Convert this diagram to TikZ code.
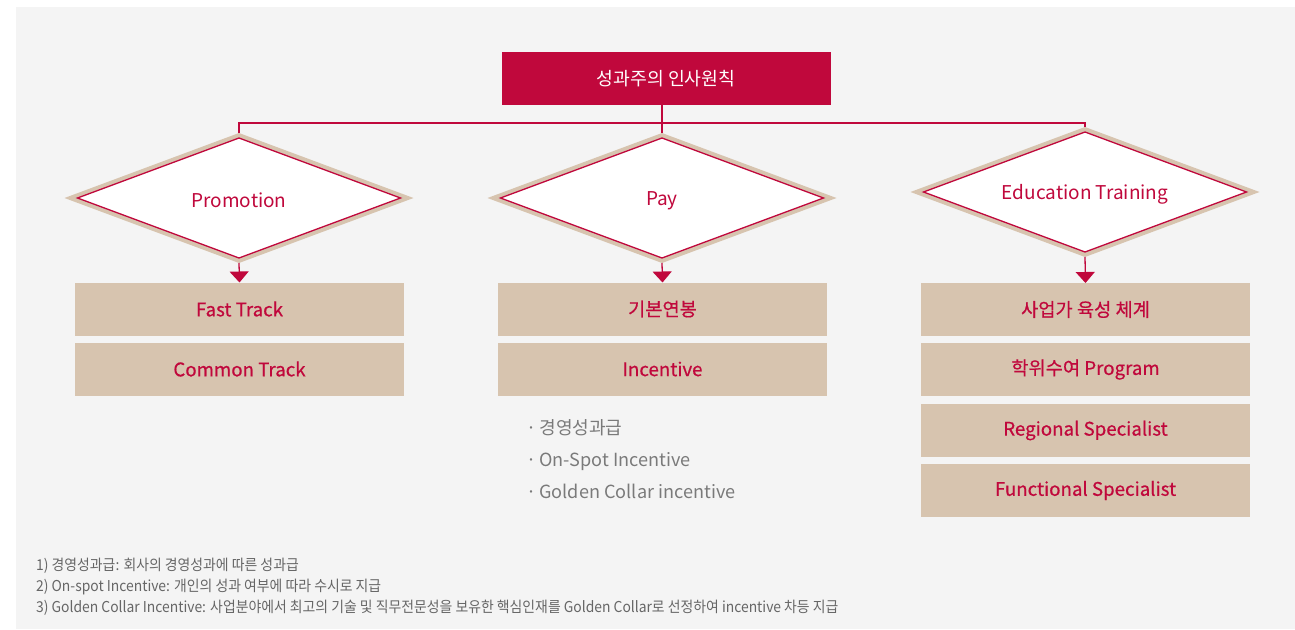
\documentclass[tikz,border=0pt]{standalone}
\usepackage{fontspec}
\setmainfont{Noto Sans CJK KR}
\newfontfamily\boxfont{Noto Sans CJK KR}[FakeBold=0.5]
\newfontfamily\fnfont{Noto Sans CJK KR}[FakeStretch=0.925]
\usetikzlibrary{shapes.geometric,arrows.meta}
\definecolor{crim}{HTML}{C0083C}
\definecolor{beige}{HTML}{D7C4AF}
\definecolor{panel}{HTML}{F4F4F4}
\definecolor{bulletgrey}{HTML}{7A7A7A}
\definecolor{fngrey}{HTML}{666666}
\begin{document}
\begin{tikzpicture}[x=1pt,y=-1pt,
  outerd/.style={diamond,fill=beige,minimum width=349pt,minimum height=130pt,inner sep=0pt,outer sep=0pt},
  innerd/.style={diamond,fill=white,draw=crim,line width=1.3pt,minimum width=323pt,minimum height=120pt,inner sep=0pt,outer sep=0pt},
  dlabel/.style={inner sep=0pt,text=crim,font=\fontsize{19}{21}\selectfont},
  itembox/.style={rectangle,fill=beige,minimum width=329pt,minimum height=53pt,inner sep=0pt,outer sep=0pt,text=crim,font=\boxfont\fontsize{18.7}{20}\selectfont},
  conn/.style={draw=crim,line width=1.3pt},
  arr/.style={conn,-{Triangle[width=19pt,length=11pt]}},
  bul/.style={anchor=base west,inner sep=0pt,text=bulletgrey,font=\fontsize{18.1}{20}\selectfont},
  fnote/.style={anchor=base west,inner sep=0pt,text=fngrey,font=\fnfont\fontsize{15}{17}\selectfont}
]
\useasboundingbox (0,0) rectangle (1295,629);
\fill[panel] (16,7) rectangle (1295,629);

% title
\node[rectangle,fill=crim,minimum width=329pt,minimum height=53pt,inner sep=0pt,outer sep=0pt,text=white,font=\fontsize{18.3}{20}\selectfont] (title) at (666,78.5) {성과주의 인사원칙};

% diamonds
\node[outerd] (promo-o) at (239,198) {};
\node[innerd] (promo) at (239,198) {};
\node[dlabel] (promo-l) at (239,200.5) {Promotion};
\node[outerd] (pay-o) at (662,198) {};
\node[innerd] (pay) at (662,198) {};
\node[dlabel] (pay-l) at (662,200.5) {Pay};
\node[outerd] (edu-o) at (1085,192) {};
\node[innerd] (edu) at (1085,192) {};
\node[dlabel] (edu-l) at (1085,194) {Education Training};

% connectors
\coordinate (hub) at (662,123);
\draw[conn] (pay-o.north |- title.south) -- (pay-o.north);
\draw[conn] (promo-o.north) -- (promo-o.north |- hub) -- (edu-o.north |- hub) -- (edu-o.north);

% boxes
\node[itembox] (fast) at (239.5,309) {Fast Track};
\node[itembox] (common) at (239.5,369) {Common Track};
\node[itembox] (base) at (662.5,309) {기본연봉};
\node[itembox] (incent) at (662.5,369) {Incentive};
\node[itembox] (biz) at (1085.5,309.5) {사업가 육성 체계};
\node[itembox] (degree) at (1085.5,369.5) {학위수여 Program};
\node[itembox] (regional) at (1085.5,430.5) {Regional Specialist};
\node[itembox] (functional) at (1085.5,490.5) {Functional Specialist};

\draw[arr] (promo-o.south) -- (fast.north);
\draw[arr] (pay-o.south) -- (base.north);
\draw[arr] (edu-o.south) -- (biz.north);

% bullets
\node[bul] (b1) at (526,434) {·\,경영성과급};
\node[bul] (b2) at (526,466) {·\,On-Spot Incentive};
\node[bul] (b3) at (526,498) {·\,Golden Collar incentive};

% footnotes
\node[fnote] (f1) at (36,570) {1) 경영성과급: 회사의 경영성과에 따른 성과급};
\node[fnote] (f2) at (36,591) {2) On-spot Incentive: 개인의 성과 여부에 따라 수시로 지급};
\node[fnote] (f3) at (36,612) {3) Golden Collar Incentive: 사업분야에서 최고의 기술 및 직무전문성을 보유한 핵심인재를 Golden Collar로 선정하여 incentive 차등 지급};
\end{tikzpicture}
\end{document}
